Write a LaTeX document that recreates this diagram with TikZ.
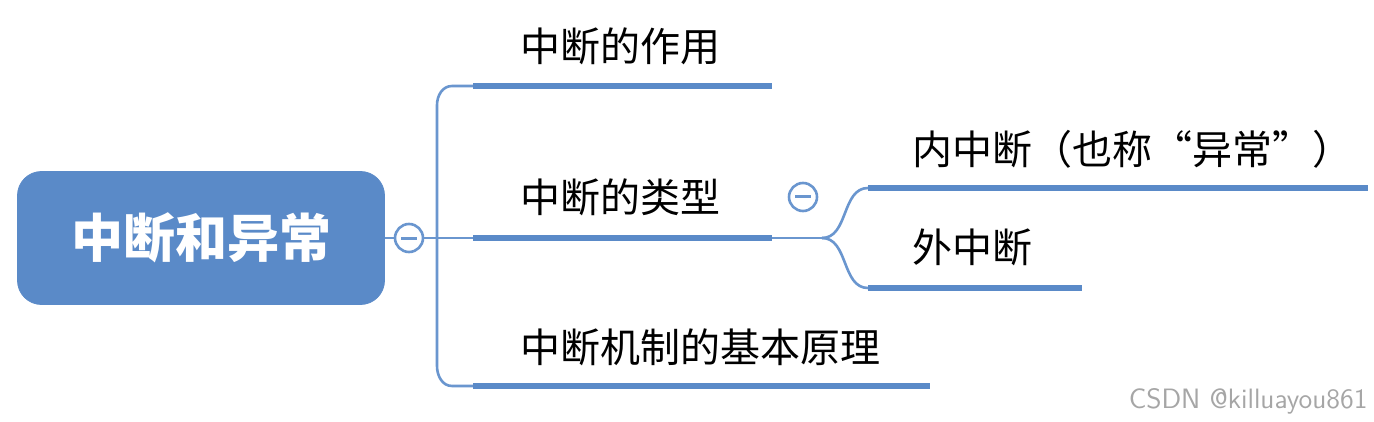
\documentclass[tikz,border=0pt]{standalone}
\usepackage{fontspec}
\setmainfont{Noto Sans CJK SC}
\definecolor{mblue}{HTML}{5A8AC8}
\definecolor{lblue}{HTML}{6A96CF}
\begin{document}
\begin{tikzpicture}[x=0.5pt,y=-0.5pt]
\tikzset{bar/.style={line width=3pt,draw=mblue},
thin/.style={line width=1.3pt,draw=lblue},
lbl/.style={anchor=base west,inner sep=0,font=\fontsize{20pt}{22pt}\selectfont},
minus/.style={circle,draw=lblue,line width=1.3pt,fill=white,minimum size=14pt,inner sep=0}}
\useasboundingbox[fill=white] (0,0) rectangle (1374,422);
\node[draw=mblue,fill=mblue,rounded corners=12pt,minimum width=183.5pt,minimum height=66.5pt,text=white,font=\fontsize{26pt}{28pt}\selectfont\bfseries] (root) at (201,238) {中断和异常};
\node[minus] (m1) at (409,238) {};
\draw[lblue,line width=1.5pt] ([xshift=-4pt]m1.center)--([xshift=4pt]m1.center);
\coordinate (b1s) at (473,86); \coordinate (b1e) at (772,86);
\coordinate (b2s) at (473,238); \coordinate (b2e) at (772,238);
\coordinate (b3s) at (473,386); \coordinate (b3e) at (930,386);
\draw[thin] (root.east) -- (m1.west);
\draw[thin] (m1.east) -- (b2s);
\draw[thin] (b1s) -- (452,86) to[out=180,in=90] (437,105) -- (437,366) to[out=-90,in=180] (452,386) -- (b3s);
\draw[bar] (b1s)--(b1e); \draw[bar] (b2s)--(b2e); \draw[bar] (b3s)--(b3e);
\node[lbl] (l1) at (520,62) {中断的作用};
\node[lbl] (l2) at (520,213) {中断的类型};
\node[lbl] (l3) at (520,362) {中断机制的基本原理};
\node[minus] (m2) at (803,197) {};
\draw[lblue,line width=1.5pt] ([xshift=-4pt]m2.center)--([xshift=4pt]m2.center);
\coordinate (fk) at (822,238);
\coordinate (c1s) at (868,188); \coordinate (c1e) at (1368,188);
\coordinate (c2s) at (868,288); \coordinate (c2e) at (1082,288);
\draw[thin] (b2e) -- (fk);
\draw[thin] (fk) to[out=0,in=180] (c1s);
\draw[thin] (fk) to[out=0,in=180] (c2s);
\draw[bar] (c1s)--(c1e); \draw[bar] (c2s)--(c2e);
\node[lbl] (s1) at (912,165) {内中断（也称“异常”）};
\node[lbl] (s2) at (912,263) {外中断};
\node[anchor=base east,inner sep=0,text=gray!70,font=\fontsize{14pt}{16pt}\selectfont\sffamily] (wm) at (1368,408) {CSDN @killuayou861};
\end{tikzpicture}
\end{document}
